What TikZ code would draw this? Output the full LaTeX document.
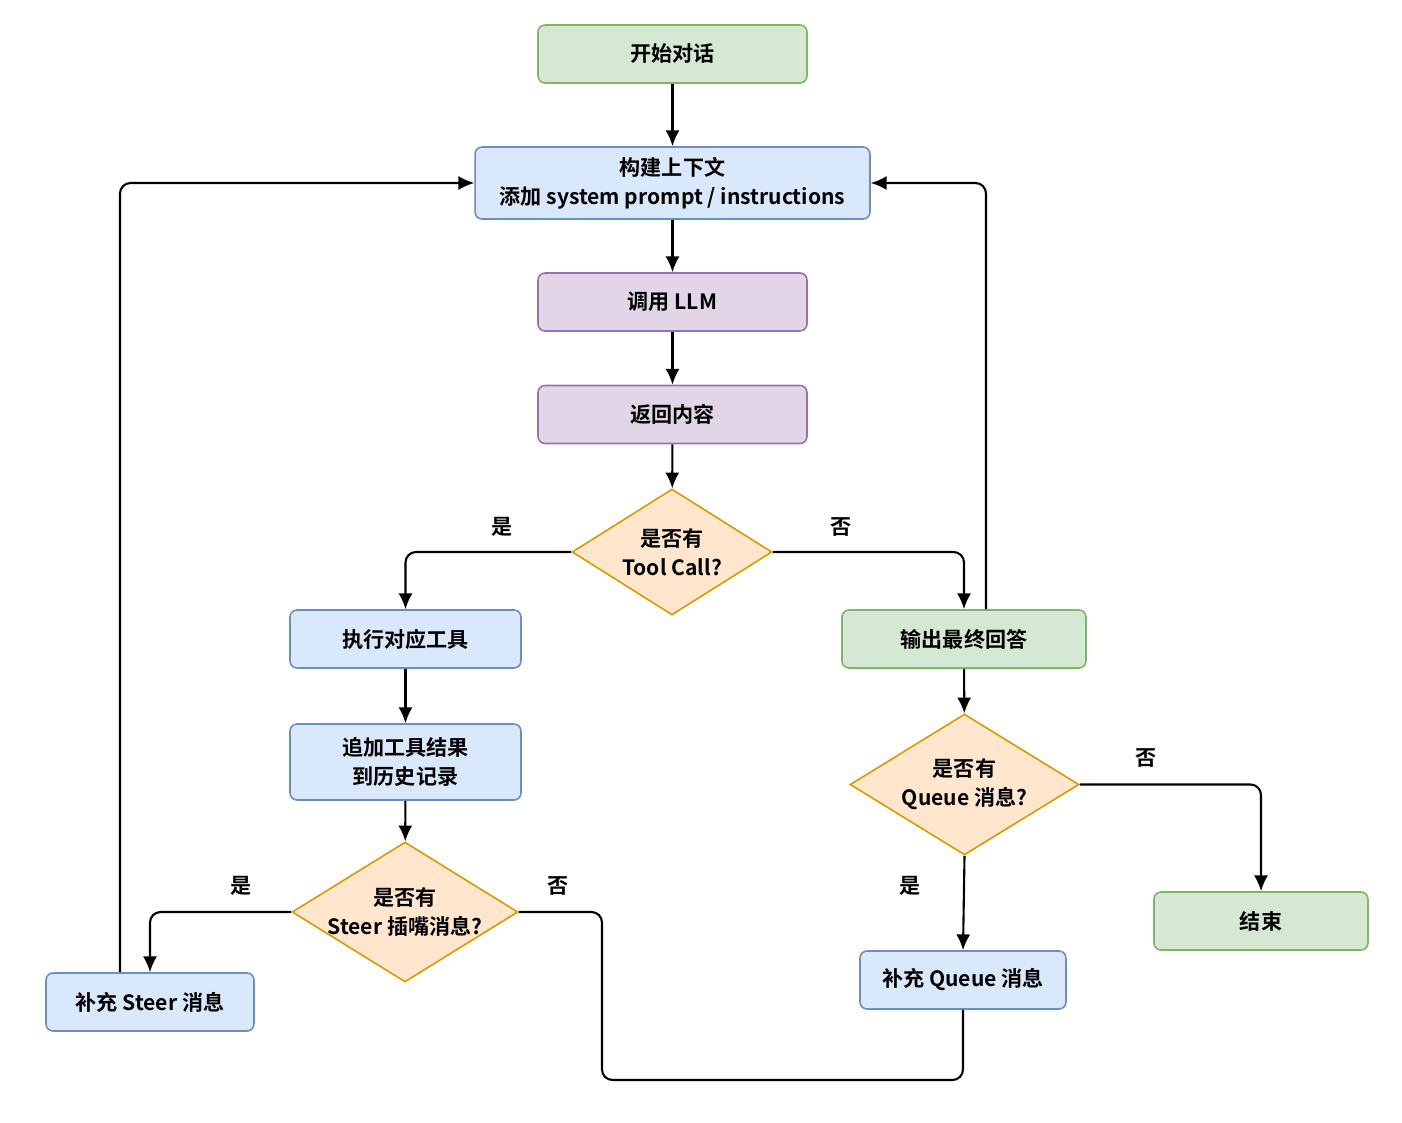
\documentclass[tikz,border=0pt]{standalone}
\usepackage{fontspec}
\setmainfont{Noto Sans CJK SC}[UprightFont=* Medium,BoldFont=* Bold]
\usetikzlibrary{arrows.meta,shapes.geometric}
\definecolor{okFill}{HTML}{D5E8D4}
\definecolor{okLine}{HTML}{82B366}
\definecolor{stepFill}{HTML}{DAE8FC}
\definecolor{stepLine}{HTML}{6C8EBF}
\definecolor{llmFill}{HTML}{E1D5E7}
\definecolor{llmLine}{HTML}{9673A6}
\definecolor{askFill}{HTML}{FFE6CC}
\definecolor{askLine}{HTML}{D79B00}

\begin{document}
\begin{tikzpicture}[x=0.02cm,y=-0.02cm,
  box/.style={draw,rounded corners=4pt,align=center,minimum height=1.16cm,inner sep=4pt,line width=0.9pt},
  green/.style={box,fill=okFill,draw=okLine},
  blue/.style={box,fill=stepFill,draw=stepLine},
  purple/.style={box,fill=llmFill,draw=llmLine},
  ask/.style={diamond,draw=askLine,fill=askFill,inner sep=0pt,line width=0.9pt,
    label={[align=center,font=\fontsize{12}{16.5}\selectfont\bfseries]center:#1}},
  flow/.style={->,line width=1.2pt,rounded corners=6pt},
  yesno/.style={inner sep=1pt},
  >={Latex[length=9pt,width=8pt]},font=\fontsize{12}{16.5}\selectfont\bfseries]
\useasboundingbox (0,0) rectangle (1402,1122);
% main column
\node[green,minimum width=5.38cm] (start) at (672.5,54) {开始对话};
\node[blue,minimum width=7.9cm,minimum height=1.44cm] (ctx) at (672.5,183) {构建上下文\\添加 system prompt / instructions};
\node[purple,minimum width=5.38cm] (llm) at (672.5,302) {调用 LLM};
\node[purple,minimum width=5.38cm] (ret) at (672.5,414.5) {返回内容};
\node[ask={是否有\\Tool Call?},minimum width=4cm,minimum height=2.52cm] (tool) at (672,552) {};
% tool branch
\node[blue,minimum width=4.62cm] (exec) at (405.5,639) {执行对应工具};
\node[blue,minimum width=4.62cm,minimum height=1.52cm] (hist) at (405.5,762) {追加工具结果\\到历史记录};
\node[ask={是否有\\Steer 插嘴消息?},minimum width=4.52cm,minimum height=2.8cm] (steerq) at (405,912) {};
\node[blue,minimum width=4.16cm] (steer) at (150,1002) {补充 Steer 消息};
% answer branch
\node[green,minimum width=4.88cm] (final) at (964,639) {输出最终回答};
\node[ask={是否有\\Queue 消息?},minimum width=4.58cm,minimum height=2.82cm] (queueq) at (964.5,784.5) {};
\node[blue,minimum width=4.12cm] (queue) at (963,980) {补充 Queue 消息};
\node[green,minimum width=4.28cm] (stop) at (1261,921) {结束};
\coordinate (back) at (602,1080);

\draw[flow] (start)--(ctx);
\draw[flow] (ctx)--(llm);
\draw[flow] (llm)--(ret);
\draw[flow] (ret)--(tool);
\draw[flow] (tool.west) -| (exec.north);
\draw[flow] (tool.east) -| (final.north);
\draw[flow] (exec)--(hist);
\draw[flow] (hist)--(steerq);
\draw[flow] (steerq.west) -| (steer.north);
\draw[flow] ([xshift=-0.6cm]steer.north) |- (ctx.west);
\draw[flow] ([xshift=0.44cm]final.north) |- (ctx.east);
\draw[flow] (final)--(queueq);
\draw[flow] (queueq.east) -| (stop.north);
\draw[flow] (queueq.south)--(queue.north);
\draw[line width=1.2pt,rounded corners=6pt] (steerq.east) -| (back) -| (queue.south);

\node[yesno] (y1) at (502,527) {是};
\node[yesno] (n1) at (841,527) {否};
\node[yesno] (y2) at (241,886) {是};
\node[yesno] (n2) at (558,886) {否};
\node[yesno] (n3) at (1146,758) {否};
\node[yesno] (y3) at (910,886) {是};
\end{tikzpicture}
\end{document}
